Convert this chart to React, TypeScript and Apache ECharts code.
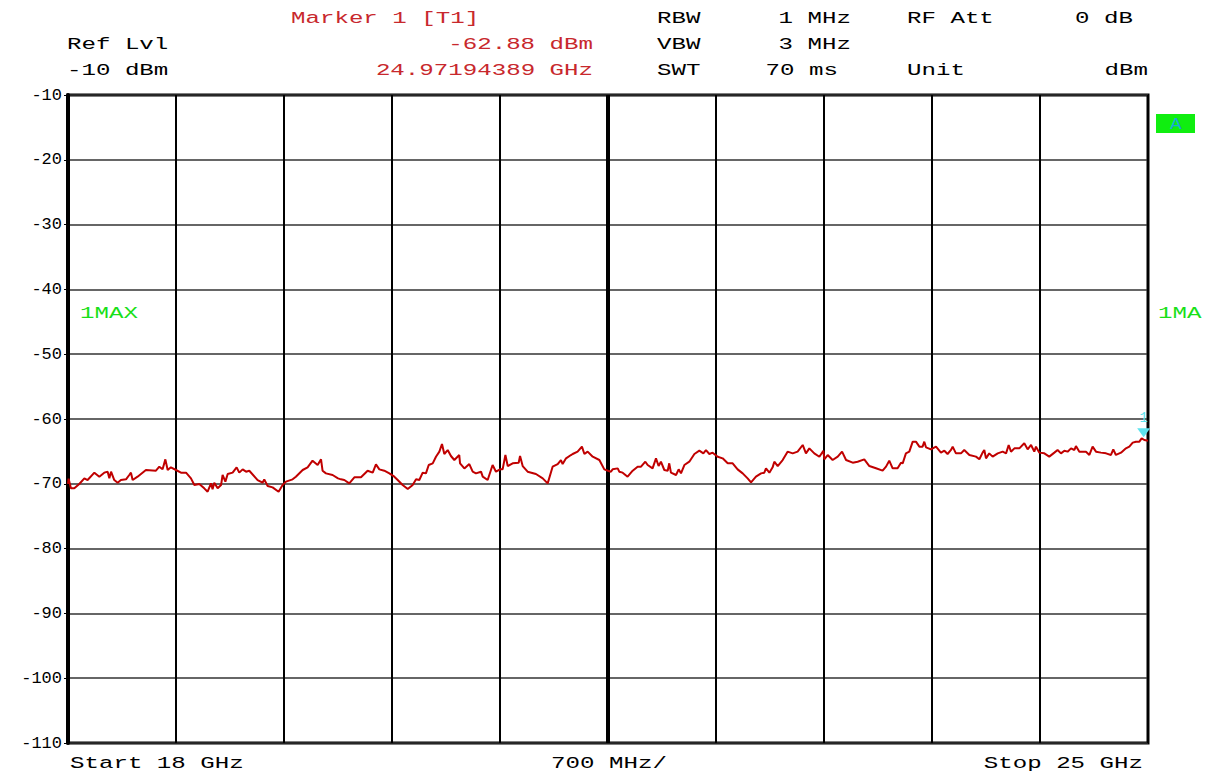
import React, { useEffect, useRef } from "react";
import * as echarts from "echarts";

// Trace: frequency (GHz) and level (dBm)
const freqGHz: number[] = [
  18.000, 18.004, 18.019, 18.041, 18.073, 18.106, 18.127, 18.171, 18.203, 18.235,
  18.257, 18.268, 18.279, 18.300, 18.322, 18.343, 18.376, 18.397, 18.408, 18.419,
  18.451, 18.505, 18.570, 18.592, 18.613, 18.631, 18.646, 18.667, 18.700, 18.732,
  18.765, 18.797, 18.819, 18.851, 18.883, 18.905, 18.927, 18.937, 18.948, 18.970,
  18.992, 19.002, 19.020, 19.035, 19.067, 19.093, 19.110, 19.132, 19.154, 19.175,
  19.229, 19.261, 19.272, 19.294, 19.326, 19.365, 19.391, 19.413, 19.456, 19.477,
  19.521, 19.553, 19.585, 19.618, 19.640, 19.650, 19.672, 19.715, 19.750,
  19.769, 19.791, 19.823, 19.856, 19.899, 19.942, 19.975, 19.996, 20.018, 20.050,
  20.083, 20.115, 20.137, 20.169, 20.202, 20.234, 20.256, 20.277, 20.299, 20.320,
  20.338, 20.364, 20.385, 20.407, 20.424, 20.439, 20.461, 20.482, 20.504, 20.536,
  20.541, 20.569, 20.601, 20.623, 20.644, 20.677, 20.688, 20.720, 20.752, 20.774,
  20.800, 20.817, 20.835, 20.850, 20.882, 20.921, 20.930, 20.947, 20.979, 21.033,
  21.077, 21.109, 21.141, 21.174, 21.195, 21.206, 21.228, 21.260, 21.271, 21.303,
  21.331, 21.347, 21.368, 21.401, 21.444, 21.476, 21.500,
  21.519, 21.530, 21.563, 21.573, 21.595, 21.627, 21.660, 21.692, 21.714, 21.742,
  21.757, 21.789, 21.811, 21.828, 21.843, 21.865, 21.887, 21.897, 21.908, 21.941,
  21.958, 21.973, 21.995, 22.027, 22.060, 22.092, 22.118, 22.135, 22.157, 22.178,
  22.211, 22.243, 22.276, 22.308, 22.340, 22.373, 22.405, 22.427, 22.459, 22.492,
  22.513, 22.524, 22.546, 22.567, 22.578, 22.600, 22.632, 22.664, 22.697, 22.729,
  22.762, 22.783, 22.805, 22.837, 22.870, 22.896, 22.902, 22.924, 22.956, 22.989,
  23.017, 23.043, 23.086, 23.118, 23.161, 23.194, 23.237,
  23.280, 23.302, 23.323, 23.345, 23.377, 23.399, 23.410, 23.431, 23.453, 23.475,
  23.496, 23.518, 23.539, 23.550, 23.561, 23.593, 23.626, 23.658, 23.680, 23.701,
  23.723, 23.734, 23.755, 23.788, 23.809, 23.842, 23.885, 23.907, 23.928, 23.939,
  23.950, 23.971, 23.993, 24.026, 24.058, 24.080, 24.097, 24.112, 24.134, 24.166,
  24.198, 24.220, 24.242, 24.263, 24.274, 24.296, 24.328, 24.360, 24.393, 24.414,
  24.436, 24.458, 24.479, 24.501, 24.523, 24.533, 24.555, 24.598, 24.620, 24.641,
  24.663, 24.695, 24.728, 24.760, 24.775, 24.792, 24.825, 24.857, 24.879, 24.901,
  24.922, 24.944, 24.959, 24.976, 25.000,
];

const levelDbm: number[] = [
  -70.0, -69.2, -70.70, -70.70, -70.03, -69.16, -69.42, -68.28, -68.90, -68.28,
  -68.13, -69.16, -68.13, -69.42, -69.83, -69.42, -69.31, -68.64, -68.28, -69.42,
  -68.90, -67.87, -67.98, -67.36, -67.77, -66.23, -67.87, -67.46, -67.87, -68.28,
  -68.28, -69.16, -70.19, -70.03, -70.70, -71.22, -69.93, -70.86, -69.83, -70.70,
  -70.19, -68.64, -69.67, -68.49, -68.28, -67.46, -68.28, -67.77, -68.13, -67.98,
  -69.42, -69.83, -69.31, -70.34, -70.55, -71.22, -70.19, -69.67, -69.31, -68.90,
  -67.87, -67.46, -66.43, -67.10, -66.23, -67.98, -68.39, -68.64, -69.16,
  -69.31, -69.42, -69.93, -69.00, -69.00, -67.98, -68.28, -67.00, -67.77, -67.98,
  -68.39, -68.90, -69.42, -70.19, -70.81, -70.19, -69.31, -69.42, -68.28, -68.39,
  -67.10, -66.84, -65.82, -65.04, -63.86, -65.40, -64.79, -65.71, -66.33, -65.56,
  -66.84, -67.62, -66.95, -68.13, -68.39, -68.13, -68.90, -69.42, -67.10, -68.13,
  -67.77, -67.77, -65.56, -67.26, -66.84, -66.74, -65.71, -67.26, -68.13, -68.49,
  -69.16, -69.93, -67.36, -66.95, -66.33, -66.95, -66.07, -65.56, -65.40, -65.04,
  -64.27, -65.40, -65.04, -65.82, -66.33, -67.77, -67.98,
  -68.13, -67.77, -67.62, -68.13, -68.28, -68.90, -67.98, -67.36, -67.36, -66.59,
  -67.10, -67.62, -66.07, -67.26, -66.59, -67.87, -67.98, -66.84, -68.28, -68.64,
  -67.77, -68.39, -67.10, -66.59, -65.40, -64.89, -65.30, -64.79, -65.40, -65.20,
  -65.82, -66.07, -66.84, -66.84, -67.77, -68.39, -69.16, -69.78, -68.90, -68.39,
  -68.28, -67.62, -68.28, -67.46, -66.59, -67.26, -66.33, -65.04, -65.30, -65.04,
  -64.01, -65.30, -64.53, -65.30, -65.82, -64.89, -66.23, -65.56, -66.33, -65.82,
  -65.04, -66.33, -66.74, -66.59, -66.23, -67.26, -67.61,
  -67.97, -67.35, -66.43, -67.61, -67.61, -66.74, -66.84, -65.30, -65.04, -63.50,
  -63.50, -64.27, -64.27, -63.50, -64.37, -64.68, -64.27, -65.19, -64.89, -65.40,
  -64.78, -64.27, -65.30, -65.30, -64.78, -65.55, -65.81, -66.22, -65.19, -64.78,
  -66.07, -65.30, -65.81, -65.30, -65.04, -65.30, -64.01, -65.04, -64.53, -64.53,
  -63.75, -64.68, -64.01, -65.04, -64.27, -65.19, -65.30, -65.81, -65.19, -64.78,
  -65.30, -64.89, -65.04, -64.53, -64.78, -64.17, -65.04, -65.04, -65.55, -64.27,
  -65.04, -65.19, -65.30, -65.55, -64.68, -65.55, -65.19, -64.53, -64.27, -63.65,
  -63.50, -63.50, -62.98, -63.24, -63.34,
];

const yTicks = { min: -110, max: -10, step: 10 };
const xRange = { startGHz: 18, stopGHz: 25, divisions: 10 };
const marker = { freq: 24.97194389, level: -62.88, name: "1" };

const FONT = "Liberation Mono";
const RED = "#c8282d";
const SX = 1.42;

export default function App() {
  const ref = useRef<HTMLDivElement>(null);
  useEffect(() => {
    if (!ref.current) return;
    const chart = echarts.init(ref.current, null, { renderer: "svg" });
    const data = freqGHz.map((f, i) => [f, levelDbm[i]]);
    const txt = (
      text: string,
      x: number,
      y: number,
      align: "left" | "right" | "center",
      fill = "#000",
      size = 17,
      sx = SX
    ) => ({
      type: "text",
      x,
      y,
      scaleX: sx,
      silent: true,
      style: {
        text,
        x: 0,
        y: 0,
        fill,
        align,
        verticalAlign: "middle",
        font: `${size}px "${FONT}"`,
      },
    });
    chart.setOption({
      animation: false,
      backgroundColor: "#fff",
      grid: {
        left: 68,
        right: 59,
        top: 95,
        bottom: 33,
        show: true,
        borderColor: "#000",
        borderWidth: 3,
        backgroundColor: "transparent",
      },
      xAxis: [
        {
          type: "value",
          min: xRange.startGHz,
          max: xRange.stopGHz,
          show: false,
        },
        {
          type: "value",
          min: 0,
          max: xRange.divisions,
          interval: 1,
          axisLabel: { show: false },
          axisLine: { show: false },
          axisTick: { show: false },
          splitLine: { show: true, lineStyle: { color: "#000", width: 2 } },
        },
      ],
      yAxis: {
        type: "value",
        min: yTicks.min,
        max: yTicks.max,
        interval: yTicks.step,
        axisLine: { show: true, lineStyle: { color: "#000", width: 4 } },
        axisTick: { show: true, length: 4, lineStyle: { color: "#000", width: 1 } },
        axisLabel: {
          color: "#000",
          fontFamily: FONT,
          fontSize: 17,
          margin: 6,
        },
        splitLine: { show: true, lineStyle: { color: "#333", width: 1.5 } },
      },
      series: [
        {
          type: "line",
          xAxisIndex: 0,
          data,
          showSymbol: false,
          symbol: "none",
          lineStyle: { color: "#c00000", width: 2 },
          z: 5,
          markLine: {
            silent: true,
            symbol: "none",
            label: { show: false },
            lineStyle: { color: "#000", width: 4, type: "solid" },
            data: [{ xAxis: (xRange.startGHz + xRange.stopGHz) / 2 }],
            z: 3,
          },
          markPoint: {
            silent: true,
            data: [
              {
                coord: [marker.freq, marker.level],
                symbol: "triangle",
                symbolRotate: 180,
                symbolSize: [13, 9],
                symbolOffset: [0, -5],
                itemStyle: { color: "#5ee3ee" },
                label: {
                  show: true,
                  formatter: marker.name,
                  position: "top",
                  distance: 3,
                  color: "#5ee3ee",
                  fontFamily: FONT,
                  fontSize: 14,
                },
              },
            ],
          },
        },
      ],
      graphic: [
        txt("Marker 1 [T1]", 291, 19, "left", RED),
        txt("RBW", 657, 19, "left"),
        txt("1 MHz", 851, 19, "right"),
        txt("RF Att", 907, 19, "left"),
        txt("0 dB", 1133, 19, "right"),
        txt("Ref Lvl", 67, 45, "left"),
        txt("-62.88 dBm", 593, 45, "right", RED),
        txt("VBW", 657, 45, "left"),
        txt("3 MHz", 851, 45, "right"),
        txt("-10 dBm", 67, 71, "left"),
        txt("24.97194389 GHz", 593, 71, "right", RED),
        txt("SWT", 657, 71, "left"),
        txt("70 ms", 838, 71, "right"),
        txt("Unit", 907, 71, "left"),
        txt("dBm", 1148, 71, "right"),
        txt("Start 18 GHz", 70, 764, "left"),
        txt("700 MHz/", 609, 764, "center"),
        txt("Stop 25 GHz", 1143, 764, "right"),
        txt("1MAX", 80, 314, "left", "#18e018"),
        txt("1MA", 1158, 314, "left", "#18e018"),
        {
          type: "rect",
          silent: true,
          shape: { x: 1156, y: 114, width: 39, height: 19 },
          style: { fill: "#10ee10" },
        },
        txt("A", 1176, 124, "center", "#1aa8d8", 16, 1.2),
      ],
    });
    return () => chart.dispose();
  }, []);
  return (
    <div
      ref={ref}
      style={{ position: "fixed", left: 0, top: 0, width: 1207, height: 776 }}
    />
  );
}
